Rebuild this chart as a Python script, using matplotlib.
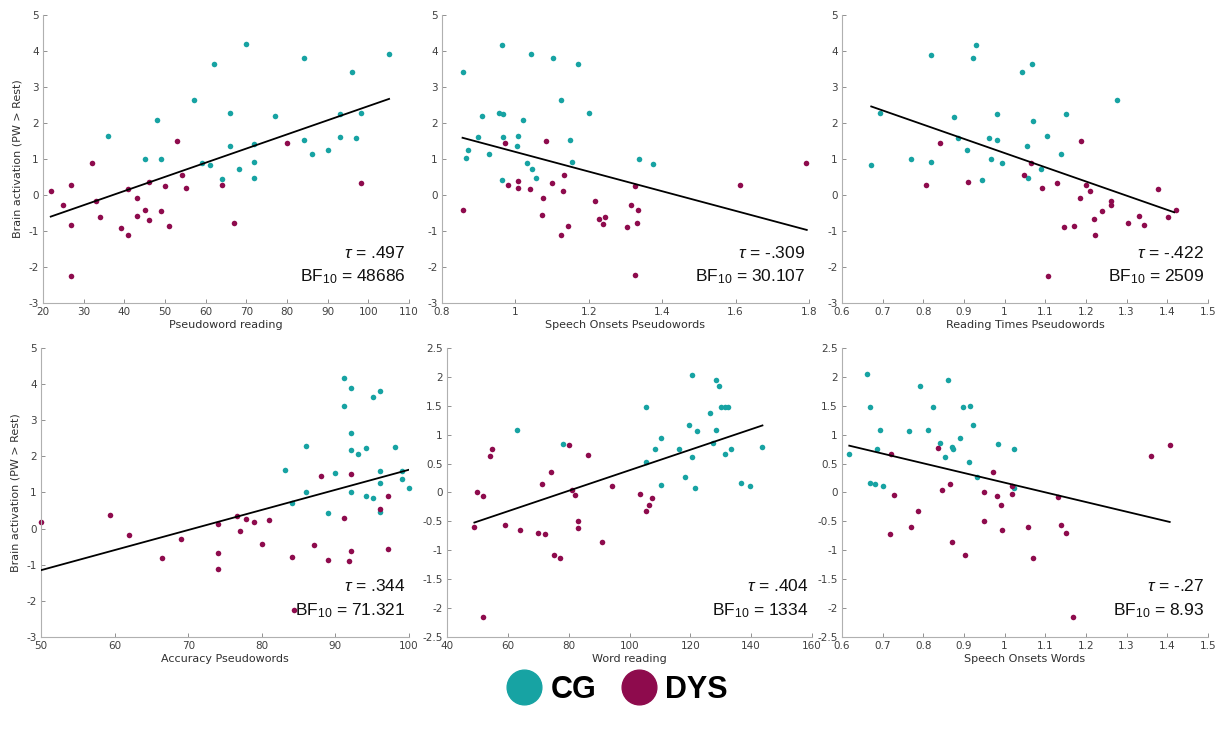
import numpy as np
import matplotlib
matplotlib.use("Agg")
import matplotlib.pyplot as plt
from matplotlib.lines import Line2D
from matplotlib.ticker import FormatStrFormatter

plt.rcParams['font.family'] = ['DejaVu Sans']
plt.rcParams['axes.unicode_minus'] = False
plt.rcParams['mathtext.fontset'] = 'custom'
plt.rcParams['mathtext.rm'] = 'Liberation Sans'
plt.rcParams['mathtext.it'] = 'Liberation Sans:italic'

CG_COL = '#17a3a3'
DYS_COL = '#8e0b4d'

# Pseudoword reading
pw_cg = [(36.0, 1.64), (45.0, 1.00), (49.0, 1.01), (48.0, 2.07), (57.1, 2.65), (59.0, 0.89),
         (61.0, 0.84), (62.0, 3.65), (70.0, 4.19), (84.1, 3.81), (96.1, 3.42), (105.1, 3.91),
         (66.0, 2.28), (77.0, 2.19), (93.1, 2.26), (98.1, 2.29), (66.1, 1.36), (72.0, 1.42),
         (84.1, 1.54), (93.1, 1.60), (97.0, 1.59), (86.1, 1.13), (90.1, 1.26), (72.0, 0.92),
         (68.1, 0.71), (64.1, 0.44), (72.0, 0.46)]
pw_dys = [(21.9, 0.11), (24.9, -0.28), (27.0, 0.28), (27.0, -0.83), (27.0, -2.25), (32.0, 0.89),
          (33.0, -0.18), (34.0, -0.62), (39.1, -0.91), (41.0, 0.18), (41.0, -1.12), (43.0, -0.09),
          (43.0, -0.58), (45.0, -0.42), (46.0, 0.37), (46.0, -0.69), (49.0, -0.45), (50.1, 0.24),
          (51.1, -0.87), (53.0, 1.50), (54.1, 0.56), (55.1, 0.19), (80.0, 1.44), (64.1, 0.28),
          (67.0, -0.79), (98.1, 0.33)]
pw_fit = [(21.9, -0.60), (105.1, 2.67)]

# Speech onsets pseudowords
sop_cg = [(0.856, 3.42), (0.963, 4.17), (1.042, 3.91), (1.102, 3.81), (1.170, 3.65), (1.123, 2.65),
          (1.201, 2.27), (0.956, 2.29), (0.965, 2.24), (0.910, 2.19), (1.022, 2.08), (0.899, 1.60),
          (0.967, 1.60), (1.007, 1.64), (1.004, 1.37), (1.149, 1.54), (0.871, 1.26), (0.865, 1.02),
          (0.927, 1.14), (1.032, 0.89), (1.045, 0.72), (1.155, 0.92), (1.055, 0.47), (0.964, 0.43),
          (1.337, 1.01), (1.374, 0.85)]
sop_dys = [(0.856, -0.43), (0.972, 1.44), (1.084, 1.51), (0.979, 0.29), (1.006, 0.38), (1.006, 0.20),
           (1.039, 0.18), (1.101, 0.33), (1.132, 0.55), (1.129, 0.12), (1.076, -0.08), (1.073, -0.56),
           (1.144, -0.87), (1.124, -1.10), (1.217, -0.17), (1.227, -0.67), (1.244, -0.61), (1.239, -0.81),
           (1.326, 0.25), (1.315, -0.27), (1.334, -0.42), (1.331, -0.78), (1.303, -0.89), (1.327, -2.23),
           (1.613, 0.29), (1.792, 0.90)]
sop_fit = [(0.856, 1.59), (1.794, -0.97)]

# Reading times pseudowords
rtp_cg = [(0.672, 0.84), (0.694, 2.28), (0.770, 1.00), (0.820, 3.89), (0.820, 0.91), (0.875, 2.18),
          (0.886, 1.59), (0.907, 1.25), (0.923, 3.80), (0.930, 4.16), (0.944, 0.42), (0.962, 1.59),
          (0.966, 1.00), (0.982, 2.26), (0.982, 1.53), (0.993, 0.88), (1.042, 3.41), (1.067, 3.63),
          (1.071, 2.06), (1.152, 2.24), (1.277, 2.63), (1.104, 1.63), (1.056, 1.36), (1.139, 1.13),
          (1.089, 0.71), (1.058, 0.46)]
rtp_dys = [(0.807, 0.28), (0.842, 1.44), (0.911, 0.36), (1.187, 1.49), (1.065, 0.88), (1.047, 0.55),
           (1.092, 0.19), (1.129, 0.33), (1.200, 0.27), (1.209, 0.11), (1.186, -0.09), (1.261, -0.18),
           (1.261, -0.28), (1.240, -0.45), (1.220, -0.68), (1.145, -0.89), (1.171, -0.87), (1.223, -1.12),
           (1.107, -2.24), (1.377, 0.18), (1.303, -0.78), (1.330, -0.58), (1.343, -0.82), (1.402, -0.62),
           (1.421, -0.42)]
rtp_fit = [(0.672, 2.46), (1.417, -0.48)]

# Accuracy pseudowords
acc_cg = [(91.1, 4.16), (92.1, 3.89), (96.1, 3.80), (95.1, 3.63), (91.1, 3.40), (92.1, 2.64),
          (86.05, 2.29), (92.1, 2.19), (94.1, 2.24), (93.1, 2.07), (98.1, 2.26), (83.1, 1.63),
          (90.0, 1.53), (96.1, 1.60), (99.1, 1.60), (96.1, 1.26), (99.1, 1.36), (100.0, 1.13),
          (86.05, 1.01), (92.1, 1.00), (94.1, 0.91), (95.1, 0.85), (84.05, 0.71), (89.0, 0.43),
          (96.1, 0.47)]
acc_dys = [(50.0, 0.18), (59.4, 0.38), (61.9, -0.17), (66.5, -0.82), (69.0, -0.28), (88.1, 1.45),
           (92.1, 1.50), (97.1, 0.89), (96.1, 0.55), (91.1, 0.29), (76.6, 0.34), (77.8, 0.28),
           (79.0, 0.19), (81.0, 0.24), (74.0, 0.12), (77.0, -0.07), (80.0, -0.42), (87.1, -0.44),
           (74.0, -0.68), (74.0, -1.11), (84.05, -0.78), (89.0, -0.87), (92.1, -0.61), (91.9, -0.89),
           (97.1, -0.57), (84.4, -2.24)]
acc_fit = [(50.0, -1.15), (100.0, 1.63)]

# Word reading
wr_cg = [(63.0, 1.08), (78.2, 0.84), (120.4, 2.04), (128.4, 1.95), (129.3, 1.84), (105.3, 1.48),
         (130.2, 1.48), (131.3, 1.48), (132.4, 1.48), (126.4, 1.37), (119.4, 1.17), (122.3, 1.06),
         (128.4, 1.08), (110.4, 0.94), (127.4, 0.85), (108.3, 0.76), (116.4, 0.75), (133.5, 0.76),
         (143.5, 0.78), (131.4, 0.67), (120.4, 0.61), (105.3, 0.52), (118.4, 0.27), (110.4, 0.13),
         (121.4, 0.07), (136.5, 0.16), (139.5, 0.12)]
wr_dys = [(54.9, 0.76), (54.0, 0.63), (80.1, 0.83), (86.2, 0.65), (74.1, 0.36), (71.1, 0.15),
          (50.0, 0.00), (51.9, -0.06), (81.2, 0.05), (82.1, -0.04), (94.1, 0.12), (49.0, -0.59),
          (59.1, -0.57), (64.0, -0.65), (70.0, -0.70), (72.1, -0.71), (83.2, -0.50), (83.2, -0.61),
          (75.1, -1.08), (77.2, -1.14), (91.1, -0.86), (51.9, -2.15), (103.3, -0.02), (107.3, -0.09),
          (106.3, -0.22), (105.3, -0.32)]
wr_fit = [(49.0, -0.52), (143.7, 1.16)]

# Speech onsets words
sow_cg = [(0.618, 0.67), (0.661, 2.05), (0.668, 1.48), (0.694, 1.08), (0.687, 0.75), (0.670, 0.16),
          (0.681, 0.14), (0.701, 0.11), (0.766, 1.06), (0.792, 1.84), (0.811, 1.08), (0.825, 1.48),
          (0.840, 0.85), (0.853, 0.61), (0.861, 1.95), (0.871, 0.78), (0.874, 0.76), (0.890, 0.94),
          (0.898, 1.48), (0.915, 1.50), (0.922, 1.17), (0.913, 0.52), (0.932, 0.26), (0.983, 0.84),
          (1.024, 0.76), (1.023, 0.07)]
sow_dys = [(0.721, 0.66), (0.728, -0.04), (0.719, -0.71), (0.771, -0.60), (0.786, -0.32), (0.836, 0.77),
           (0.846, 0.05), (0.866, 0.14), (0.871, -0.86), (0.903, -1.08), (0.972, 0.36), (0.949, 0.00),
           (0.949, -0.50), (0.981, -0.06), (0.990, -0.22), (0.993, -0.65), (1.018, 0.12), (1.018, -0.02),
           (1.057, -0.60), (1.069, -1.14), (1.131, -0.08), (1.138, -0.57), (1.152, -0.70), (1.169, -2.15),
           (1.359, 0.63), (1.406, 0.83)]
sow_fit = [(0.618, 0.81), (1.406, -0.51)]

xlabels = ['Pseudoword reading', 'Speech Onsets Pseudowords', 'Reading Times Pseudowords',
           'Accuracy Pseudowords', 'Word reading', 'Speech Onsets Words']
taus = ['.497', '-.309', '-.422', '.344', '.404', '-.27']
bfs = ['48686', '30.107', '2509', '71.321', '1334', '8.93']
xticks = [np.arange(20, 111, 10), np.arange(0.8, 1.81, 0.2), np.arange(0.6, 1.51, 0.1),
          np.arange(50, 101, 10), np.arange(40, 161, 20), np.arange(0.6, 1.51, 0.1)]
ylims = [(-3, 5)] * 4 + [(-2.5, 2.5)] * 2

panels = [(pw_cg, pw_dys, pw_fit), (sop_cg, sop_dys, sop_fit), (rtp_cg, rtp_dys, rtp_fit),
          (acc_cg, acc_dys, acc_fit), (wr_cg, wr_dys, wr_fit), (sow_cg, sow_dys, sow_fit)]

# axes boxes in figure fractions
boxes = [(0.0352, 0.5883, 0.2995, 0.3913), (0.3617, 0.5883, 0.3003, 0.3913), (0.6890, 0.5883, 0.2995, 0.3913),
         (0.0336, 0.1345, 0.3011, 0.3927), (0.3658, 0.1345, 0.2987, 0.3927), (0.6890, 0.1345, 0.2995, 0.3927)]

fig = plt.figure(figsize=(12.22, 7.36), dpi=100)

for i, (cg, dys, fit) in enumerate(panels):
    ax = fig.add_axes(boxes[i])
    cg = np.array(cg)
    dys = np.array(dys)
    fit = np.array(fit)
    ax.scatter(cg[:, 0], cg[:, 1], s=16, color=CG_COL, linewidths=0, clip_on=False, zorder=2)
    ax.scatter(dys[:, 0], dys[:, 1], s=16, color=DYS_COL, linewidths=0, clip_on=False, zorder=2)
    ax.plot(fit[:, 0], fit[:, 1], color='black', lw=1.3, zorder=3)

    xt = xticks[i]
    ax.set_xlim(xt[0], xt[-1])
    ax.set_xticks(xt)
    ax.set_ylim(*ylims[i])
    if i < 4:
        ax.set_yticks(np.arange(-3, 6, 1))
    else:
        ax.set_yticks(np.arange(-2.5, 2.51, 0.5))
    ax.xaxis.set_major_formatter(FormatStrFormatter('%g'))
    ax.yaxis.set_major_formatter(FormatStrFormatter('%g'))

    for s in ['top', 'right']:
        ax.spines[s].set_visible(False)
    for s in ['left', 'bottom']:
        ax.spines[s].set_color('#b0b0b0')
        ax.spines[s].set_linewidth(0.8)
    ax.tick_params(direction='in', length=3, width=0.7, color='#909090',
                   labelsize=7.5, labelcolor='#404040', pad=3)

    ax.set_xlabel(xlabels[i], fontsize=8, color='#303030', labelpad=2)
    if i % 3 == 0:
        ax.set_ylabel('Brain activation (PW > Rest)', fontsize=8, color='#303030', labelpad=4)

    ax.text(0.99, 0.175, r'$\it{\tau}$ = ' + taus[i], transform=ax.transAxes,
            ha='right', va='center', fontsize=12.5, family='Liberation Sans', color='#111111')
    ax.text(0.99, 0.09, r'BF$_{\mathrm{10}}$ = ' + bfs[i], transform=ax.transAxes,
            ha='right', va='center', fontsize=12.5, family='Liberation Sans', color='#111111')

handles = [Line2D([], [], ls='none', marker='o', markersize=25, color=CG_COL),
           Line2D([], [], ls='none', marker='o', markersize=25, color=DYS_COL)]
leg = fig.legend(handles, ['CG', 'DYS'], loc='center', bbox_to_anchor=(0.506, 0.0625), ncol=2,
                 frameon=False, handlelength=1.0, handletextpad=0.35, columnspacing=0.9,
                 prop={'family': 'Liberation Sans', 'weight': 'bold', 'size': 22})

fig.savefig('out.png', dpi=100)
